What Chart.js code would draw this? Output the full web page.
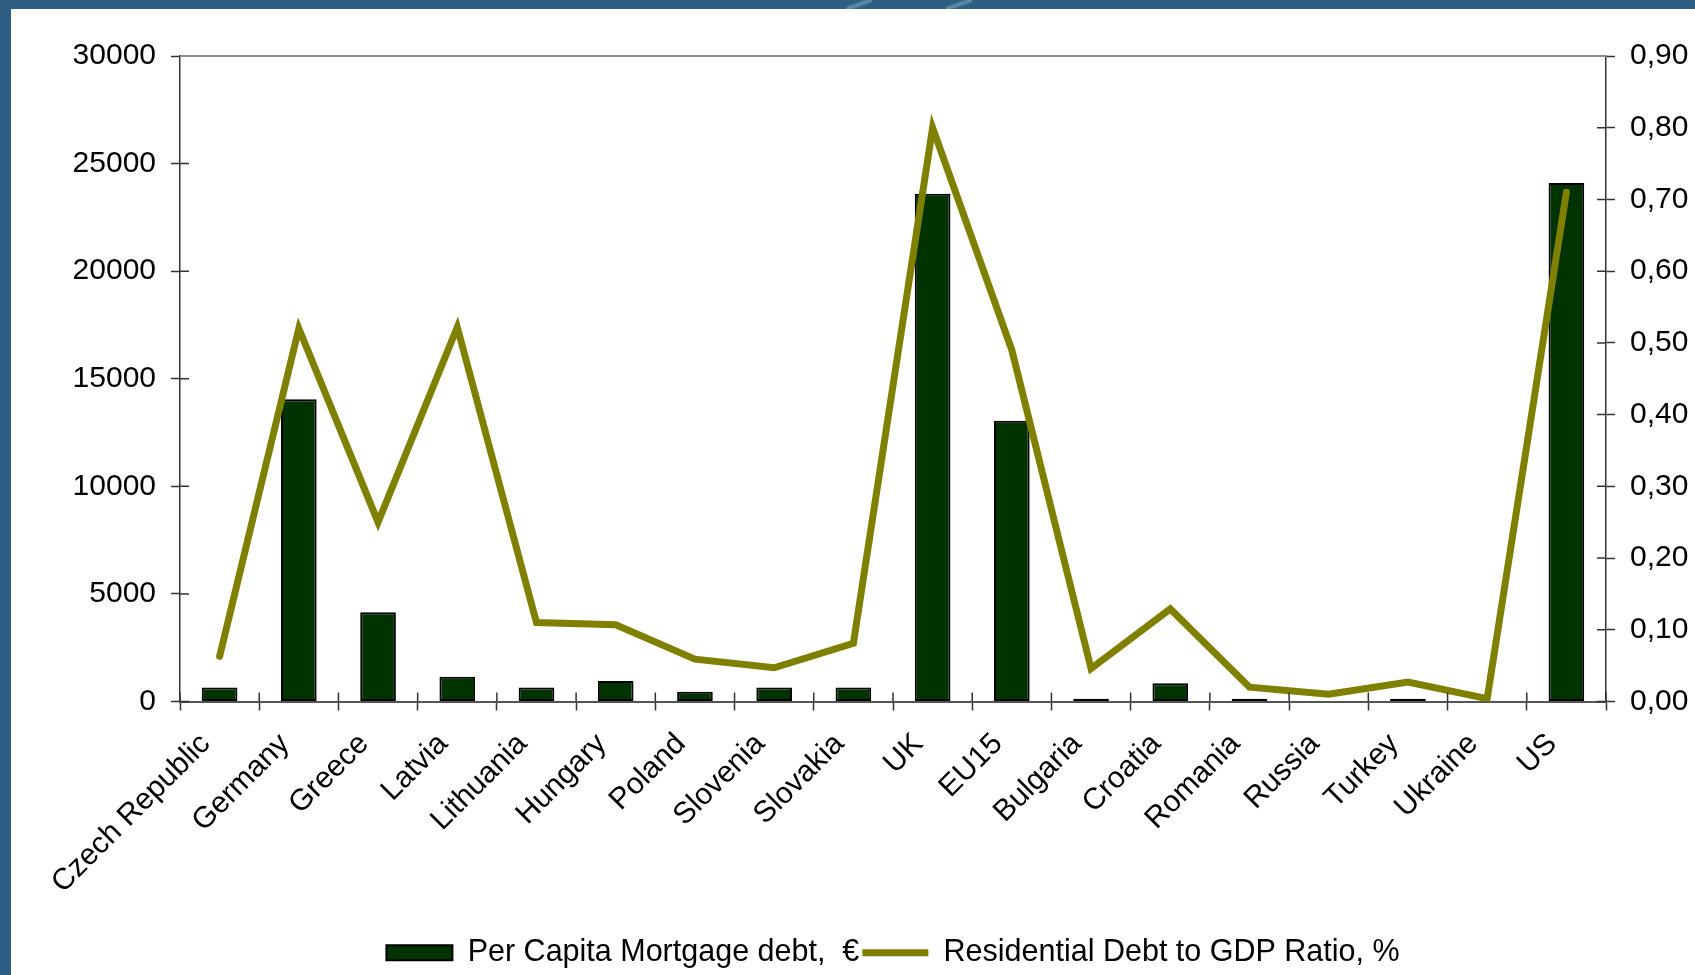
<!DOCTYPE html>
<html>
<head>
<meta charset="utf-8">
<script src="https://cdn.jsdelivr.net/npm/chart.js@4.4.1/dist/chart.umd.min.js"></script>
<style>
    html, body {
        margin: 0;
        padding: 0;
        width: 1695px;
        height: 975px;
        overflow: hidden;
        background: #2e5f82;
    }
    .streak {
        position: absolute;
        top: 0;
        width: 26px;
        height: 9px;
        background: linear-gradient(160deg, rgba(255,255,255,0) 30%, rgba(170,200,215,0.45) 50%, rgba(255,255,255,0) 70%);
    }
    #frame {
        position: absolute;
        left: 11px;
        top: 9px;
        width: 1684px;
        height: 966px;
        background: #ffffff;
        overflow: hidden;
    }
    canvas {
        display: block;
    }
</style>
</head>
<body>
<div class="streak" style="left: 846px;"></div>
<div class="streak" style="left: 946px;"></div>
<div id="frame">
    <canvas id="chart" width="1764" height="966"></canvas>
</div>
<script>
const categories = [
    'Czech Republic', 'Germany', 'Greece', 'Latvia', 'Lithuania', 'Hungary',
    'Poland', 'Slovenia', 'Slovakia', 'UK', 'EU15', 'Bulgaria', 'Croatia',
    'Romania', 'Russia', 'Turkey', 'Ukraine', 'US',
];
const mortgageDebt = [650, 14050, 4150, 1150, 650, 950, 450, 650, 650, 23600, 13050, 130, 850, 130, 0, 130, 0, 24100];
const debtToGdp = [0.063, 0.52, 0.25, 0.522, 0.11, 0.107, 0.059, 0.047, 0.081, 0.80, 0.49, 0.046, 0.129, 0.02, 0.01, 0.027, 0.004, 0.71];

const barLabel = 'Per Capita Mortgage debt,  \u20ac';
const lineLabel = 'Residential Debt to GDP Ratio, %';

const FONT = { family: '"Liberation Sans", Arial, sans-serif', size: 30 };
const LEGEND_FONT = { family: '"Liberation Sans", Arial, sans-serif', size: 30.5 };
const TICK_LEN = 9;

// Excel-style "cross" tick marks: Chart.js draws the outer half, this adds the inner half
// and the thin grey frame line along the top of the plot.
const crossTicks = {
    id: 'crossTicks',
    afterDraw(chart) {
        const { ctx, chartArea } = chart;
        const left = chart.scales.y;
        const right = chart.scales.y2;
        const x = chart.scales.x;
        ctx.save();
        ctx.lineWidth = 1.5;
        ctx.strokeStyle = '#333333';
        ctx.beginPath();
        left.ticks.forEach((t, i) => {
            const py = left.getPixelForTick(i);
            ctx.moveTo(chartArea.left, py);
            ctx.lineTo(chartArea.left + TICK_LEN, py);
        });
        right.ticks.forEach((t, i) => {
            const py = right.getPixelForTick(i);
            ctx.moveTo(chartArea.right, py);
            ctx.lineTo(chartArea.right - TICK_LEN, py);
        });
        for (let i = 0; i <= categories.length; i++) {
            const px = x.getPixelForValue(i - 0.5);
            ctx.moveTo(px, chartArea.bottom);
            ctx.lineTo(px, chartArea.bottom - TICK_LEN);
        }
        ctx.stroke();
        ctx.strokeStyle = '#8c8c8c';
        ctx.lineWidth = 2;
        ctx.beginPath();
        ctx.moveTo(chartArea.left, chartArea.top);
        ctx.lineTo(chartArea.right, chartArea.top);
        ctx.stroke();
        ctx.restore();
    },
};

new Chart(document.getElementById('chart'), {
    data: {
        labels: categories,
        datasets: [
            {
                type: 'bar',
                label: barLabel,
                data: mortgageDebt,
                yAxisID: 'y',
                backgroundColor: '#003300',
                borderColor: '#000000',
                borderWidth: 2,
                borderSkipped: false,
                categoryPercentage: 1,
                barPercentage: 0.45,
                order: 2,
            },
            {
                type: 'line',
                label: lineLabel,
                data: debtToGdp,
                yAxisID: 'y2',
                borderColor: '#808000',
                backgroundColor: '#808000',
                borderWidth: 7,
                borderCapStyle: 'round',
                borderJoinStyle: 'miter',
                pointRadius: 0,
                tension: 0,
                order: 1,
            },
        ],
    },
    options: {
        responsive: false,
        animation: false,
        devicePixelRatio: 1,
        layout: {
            padding: { top: 47, left: 0, right: 0, bottom: -3 },
        },
        plugins: {
            tooltip: { enabled: false },
            legend: {
                position: 'bottom',
                labels: {
                    font: LEGEND_FONT,
                    color: '#000000',
                    usePointStyle: true,
                    pointStyleWidth: 66,
                    boxHeight: 15,
                    padding: 3,
                    generateLabels(chart) {
                        const items = Chart.defaults.plugins.legend.labels.generateLabels(chart);
                        items.sort((a, b) => a.datasetIndex - b.datasetIndex);
                        items.forEach(item => {
                            if (item.datasetIndex === 0) {
                                item.pointStyle = 'rect';
                                item.lineWidth = 2;
                                item.strokeStyle = '#000000';
                                item.fillStyle = '#003300';
                            } else {
                                item.pointStyle = 'line';
                                item.lineWidth = 7;
                                item.strokeStyle = '#808000';
                            }
                        });
                        return items;
                    },
                },
            },
        },
        scales: {
            x: {
                offset: true,
                grid: {
                    offset: true,
                    drawOnChartArea: false,
                    tickLength: TICK_LEN,
                    tickColor: '#333333',
                    tickWidth: 1.5,
                },
                border: { color: '#555555', width: 2 },
                ticks: {
                    font: FONT,
                    color: '#000000',
                    autoSkip: false,
                    maxRotation: 45,
                    minRotation: 45,
                    labelOffset: -14,
                    padding: 16,
                },
                afterFit(scale) {
                    scale.height = 233;
                },
            },
            y: {
                position: 'left',
                min: 0,
                max: 30000,
                grid: {
                    drawOnChartArea: false,
                    tickLength: TICK_LEN,
                    tickColor: '#333333',
                    tickWidth: 1.5,
                },
                border: { color: '#333333', width: 1.5 },
                ticks: {
                    stepSize: 5000,
                    font: FONT,
                    color: '#000000',
                    padding: 15,
                    callback: v => String(v),
                },
                afterFit(scale) {
                    scale.width = 169;
                },
            },
            y2: {
                position: 'right',
                min: 0,
                max: 0.9,
                grid: {
                    drawOnChartArea: false,
                    tickLength: TICK_LEN,
                    tickColor: '#333333',
                    tickWidth: 1.5,
                },
                border: { color: '#333333', width: 1.5 },
                ticks: {
                    stepSize: 0.1,
                    font: FONT,
                    color: '#000000',
                    padding: 15,
                    callback: v => v.toFixed(2).replace('.', ','),
                },
                afterFit(scale) {
                    scale.width = 169;
                },
            },
        },
    },
    plugins: [crossTicks],
});
</script>
</body>
</html>
